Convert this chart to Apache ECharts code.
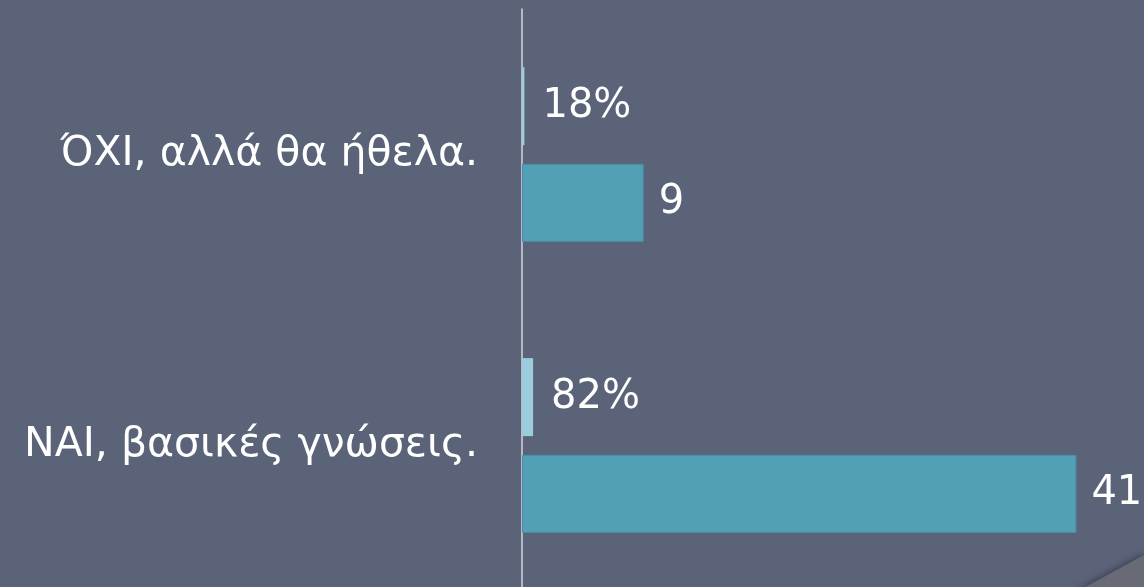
<!DOCTYPE html>
<html>
<head>
<meta charset="utf-8">
<script src="https://cdn.jsdelivr.net/npm/echarts@6/dist/echarts.min.js"></script>
<style>
  html, body { margin: 0; padding: 0; background: #5b6378; overflow: hidden; }
  /* the plot runs a few px past the bottom of the slide */
  #chart { width: 1144px; height: 591px; }
</style>
</head>
<body>
<div id="chart"></div>
<script>
// answers, top to bottom
const categories = ['ΌΧΙ, αλλά θα ήθελα.', 'ΝΑΙ, βασικές γνώσεις.']
// share of answers (as fraction) and number of answers
const shareValues = [0.18, 0.82]
const shareLabels = ['18%', '82%']
const countValues = [9, 41]

const chart = echarts.init(document.getElementById('chart'))
// the source text is a little wide, DejaVu gets closer than Arial
const font = '"DejaVu Sans", "Liberation Sans", sans-serif'

const option = {
  backgroundColor: '#5b6378',
  animation: false,
  grid: { left: 522, right: 0, top: 9, bottom: 0, containLabel: false },
  xAxis: {
    type: 'value',
    min: 0,
    max: 46,
    show: false
  },
  yAxis: {
    type: 'category',
    data: categories,
    inverse: true,
    axisLine: { show: true, lineStyle: { color: '#d4d6dc', width: 1.5 } },
    axisTick: { show: false },
    axisLabel: {
      color: '#ffffff',
      fontFamily: font,
      fontSize: 41,
      margin: 44
    }
  },
  series: [
    {
      name: 'share',
      type: 'bar',
      data: shareValues,
      barWidth: 78,
      barGap: '24%',
      barCategoryGap: '40%',
      itemStyle: { color: '#9ccddd' },
      label: {
        show: true,
        position: 'right',
        distance: 18,
        color: '#ffffff',
        fontFamily: font,
        fontSize: 40,
        formatter: p => shareLabels[p.dataIndex]
      }
    },
    {
      name: 'count',
      type: 'bar',
      data: countValues,
      barWidth: 78,
      itemStyle: { color: '#52a0b5', borderColor: '#4b8ea6', borderWidth: 1 },
      label: {
        show: true,
        position: 'right',
        distance: 15,
        color: '#ffffff',
        fontFamily: font,
        fontSize: 40
      }
    }
  ],
  graphic: [
    {
      type: 'polygon',
      silent: true,
      shape: { points: [[1078, 591], [1144, 555], [1144, 591]] },
      style: { fill: '#686b76', shadowBlur: 6, shadowColor: 'rgba(40,44,60,0.6)', shadowOffsetY: -2 }
    }
  ]
}
chart.setOption(option)
</script>
</body>
</html>
